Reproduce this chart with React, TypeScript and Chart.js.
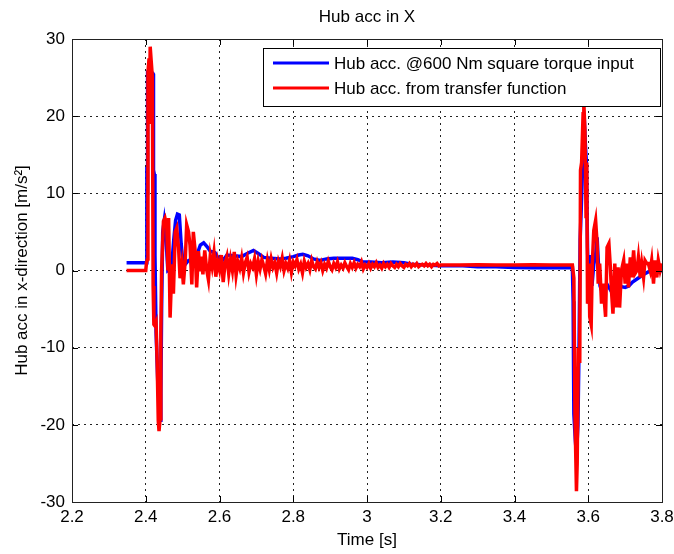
import React, { useEffect, useRef } from "react";
import { Chart, registerables } from "chart.js";

Chart.register(...registerables);

const chartTitle = "Hub acc in X";
const xAxisTitle = "Time [s]";
const yAxisTitle = "Hub acc in x-direction [m/s²]";
const seriesNames = ["Hub acc. @600 Nm square torque input", "Hub acc. from transfer function"];
const xTicks = [2.2, 2.4, 2.6, 2.8, 3.0, 3.2, 3.4, 3.6, 3.8];
const yTicks = [-30, -20, -10, 0, 10, 20, 30];

// Blue: measured hub acceleration [time, value]
const blueStart: number[][] = [
  [2.348, 1.0], [2.401, 1.0], [2.403, 13.4], [2.404, 10], [2.405, 25.7], [2.416, 25.7],
  [2.42, 25.5], [2.421, 13], [2.423, 12.5], [2.425, 2], [2.428, -8], [2.433, -15],
  [2.439, -19.4], [2.441, -16], [2.443, -5], [2.446, 5], [2.45, 6.4], [2.455, 4],
  [2.46, 0], [2.466, 0.2], [2.471, 1], [2.476, 4], [2.481, 6.5], [2.486, 7.3],
  [2.491, 7.2], [2.496, 3.5], [2.502, 0.5], [2.507, 0.8], [2.516, 1.3], [2.53, 1.5],
  [2.54, 2.2], [2.548, 3.3], [2.557, 3.6], [2.566, 3.1], [2.575, 2.5], [2.588, 2.3],
  [2.598, 1.5], [2.606, 1.2], [2.614, 1.6], [2.62, 2.0], [2.638, 1.9], [2.66, 1.8],
  [2.675, 2.2], [2.692, 2.6], [2.705, 2.2], [2.72, 1.7], [2.74, 1.6], [2.765, 1.5],
  [2.78, 1.6], [2.8, 1.8], [2.815, 2.0], [2.826, 2.1], [2.84, 1.9], [2.855, 1.5],
  [2.873, 1.3], [2.89, 1.5], [2.91, 1.6], [2.93, 1.6], [2.96, 1.6], [2.975, 1.4],
  [2.99, 1.1], [3.01, 1.1], [3.04, 1.0], [3.07, 1.1], [3.1, 1.0], [3.12, 0.8],
  [3.16, 0.7], [3.2, 0.6], [3.26, 0.6], [3.3, 0.5], [3.35, 0.5], [3.4, 0.4],
  [3.45, 0.35], [3.5, 0.35], [3.557, 0.4],
];
const blueEnd: number[][] = [
  [3.559, -4], [3.561, -18.6], [3.565, -22], [3.568, -24], [3.572, -20], [3.575, -10],
  [3.578, 4], [3.581, 8], [3.585, 14], [3.589, 20], [3.592, 16.5], [3.595, 14],
  [3.598, 3], [3.602, -4.3], [3.606, 2], [3.61, -2], [3.615, 0.8], [3.62, 2],
  [3.624, 4.3], [3.628, 0.5], [3.632, -2], [3.64, -3.1], [3.65, -1.7], [3.66, -2.5],
  [3.67, -1.7], [3.68, -2], [3.7, -2.2], [3.71, -2.0], [3.72, -1.5], [3.735, -1],
  [3.75, -0.5], [3.77, 0], [3.78, -0.3], [3.8, 0],
];

// Red: transfer-function estimate [time, value]
const redStart: number[][] = [
  [2.348, 0], [2.4, 0], [2.402, 1.0], [2.405, 1.5], [2.406, 25.7], [2.409, 27.5],
  [2.41, 19], [2.412, 29], [2.415, 27], [2.418, 25], [2.42, -2], [2.422, -7],
  [2.425, -7.2], [2.428, -6.8], [2.431, -12], [2.434, -19.5], [2.436, -20.8], [2.439, -19.2],
  [2.441, -8], [2.443, 0], [2.448, 6.4], [2.452, 6.8], [2.457, 5.6], [2.46, 0],
  [2.462, 6.8], [2.466, -6.1], [2.471, 0.8], [2.475, -3], [2.48, 5], [2.484, 5.5],
  [2.489, 2.9], [2.493, -1], [2.498, 0.8], [2.502, -1.8], [2.507, 1.2], [2.511, 5.9],
  [2.516, 5], [2.52, 3.3], [2.525, -1.8], [2.529, 5], [2.534, 2.5], [2.538, -2.2],
  [2.543, 2.5], [2.547, -0.1],
];
const redNoise: number[][] = [
  [2.55, 1.8], [2.555, -0.5], [2.56, 2.6], [2.565, 0.2], [2.57, -1.2], [2.575, 1.9],
  [2.58, 0.5], [2.585, 2.3], [2.59, -0.8], [2.595, 1.2], [2.6, 0.1], [2.605, 2.0],
  [2.61, -1.5], [2.615, 0.9], [2.62, 1.8], [2.625, -0.4], [2.63, 1.4], [2.635, 0.0],
  [2.64, 2.4], [2.645, -0.6], [2.65, 1.1], [2.655, 0.3], [2.66, 1.6], [2.665, -0.3],
  [2.67, 1.0], [2.675, 1.7], [2.68, -0.2], [2.685, 0.9], [2.69, 0.4], [2.695, 1.5],
  [2.7, -0.5], [2.705, 1.2], [2.71, 0.2], [2.715, 1.4], [2.72, 0.6], [2.725, -0.4],
  [2.73, 1.3], [2.735, 0.1], [2.74, 1.5], [2.745, 0.4], [2.75, 1.0], [2.755, -0.3],
  [2.76, 1.2], [2.765, 0.5], [2.77, 1.6], [2.775, 0.0], [2.78, 0.9], [2.785, 0.3],
  [2.79, 1.3], [2.795, -0.2], [2.8, 1.1], [2.805, 0.6], [2.81, 1.4], [2.815, 0.2],
  [2.82, 0.8], [2.825, -0.3], [2.83, 1.2], [2.835, 0.4], [2.84, 0.9], [2.845, 0.1],
  [2.85, 1.3], [2.855, 0.5], [2.86, 0.2], [2.865, 1.1], [2.87, 0.4], [2.875, 1.0],
  [2.88, 0.0], [2.885, 0.8], [2.89, 0.3], [2.895, 1.2], [2.9, 0.5], [2.905, 0.1],
  [2.91, 0.9], [2.915, 0.4], [2.92, 1.1], [2.925, 0.2], [2.93, 0.7], [2.935, 0.3],
  [2.94, 1.0], [2.945, 0.5], [2.95, 0.1], [2.955, 0.9], [2.96, 0.4], [2.965, 1.0],
  [2.97, 0.3], [2.975, 0.8], [2.98, 0.5], [2.985, 1.1], [2.99, 0.2], [2.995, 0.7],
  [3.0, 0.4], [3.005, 0.9], [3.01, 0.3], [3.015, 0.8], [3.02, 0.5], [3.025, 1.0],
  [3.03, 0.4], [3.035, 0.7], [3.04, 0.3], [3.045, 0.9], [3.05, 0.5], [3.055, 0.8],
  [3.06, 0.4], [3.065, 0.9], [3.07, 0.6], [3.075, 0.4], [3.08, 0.8], [3.085, 0.5],
  [3.09, 0.9], [3.095, 0.6], [3.1, 0.4], [3.105, 0.8], [3.11, 0.6], [3.115, 0.9],
  [3.12, 0.5], [3.125, 0.8], [3.13, 0.6], [3.135, 0.9], [3.14, 0.5], [3.145, 0.7],
  [3.15, 0.8], [3.155, 0.6], [3.16, 0.9], [3.165, 0.6], [3.17, 0.8], [3.175, 0.5],
  [3.18, 0.8], [3.185, 0.7], [3.19, 0.9], [3.195, 0.6], [3.2, 0.7],
  [3.25, 0.7], [3.3, 0.75], [3.35, 0.7], [3.4, 0.7], [3.45, 0.75], [3.5, 0.7], [3.557, 0.7],
];
const redEnd: number[][] = [
  [3.561, -1], [3.564, -18.6], [3.568, -28.6], [3.57, -25], [3.573, -10], [3.577, -12],
  [3.579, 13], [3.582, 14], [3.586, 20.3], [3.588, 21.8], [3.591, 18], [3.594, 7],
  [3.596, 14], [3.598, -4.3], [3.602, 0.9], [3.604, -6], [3.608, -7], [3.611, 0.9],
  [3.615, 5.2], [3.62, 6.5], [3.624, 3.5], [3.627, -1.7], [3.631, 0.9], [3.636, -4.3],
  [3.64, -1.7], [3.647, -6], [3.651, 3], [3.656, 3.5], [3.66, 0.4], [3.663, -2.6],
  [3.667, -5.6], [3.672, 0.9], [3.676, -4.8], [3.681, 0.4], [3.685, -4.8], [3.69, 0],
  [3.696, 1.3], [3.7, -1.7], [3.705, 0.9], [3.709, -2.2], [3.714, 1.7], [3.718, -0.9],
  [3.723, 2.6], [3.727, -0.4], [3.732, 0], [3.736, 1.7], [3.741, -0.9], [3.745, 0.9],
  [3.75, -0.9], [3.754, 1.3], [3.759, 0.9], [3.763, 0.9], [3.768, 0], [3.772, 1.3],
  [3.777, -1.7], [3.781, 1.3], [3.786, -0.9], [3.79, 1.3], [3.795, 0], [3.8, 0.9],
];

const FONT = "'Liberation Sans', Arial, Helvetica, sans-serif";
const toPoints = (...parts: number[][][]) =>
  parts.flat().map(([x, y]) => ({ x, y }));

const framePlugin = {
  id: "matlabFrame",
  afterDatasetsDraw(chart: any) {
    const { ctx, chartArea: a, scales } = chart;
    const { left, right, top, bottom } = a;
    ctx.save();
    ctx.strokeStyle = "#000";
    ctx.lineWidth = 1;
    ctx.beginPath();
    const tl = 6;
    for (const v of xTicks) {
      const px = Math.round(scales.x.getPixelForValue(v)) + 0.5;
      ctx.moveTo(px, bottom);
      ctx.lineTo(px, bottom - tl);
      ctx.moveTo(px, top);
      ctx.lineTo(px, top + tl);
    }
    for (const v of yTicks) {
      const py = Math.round(scales.y.getPixelForValue(v)) + 0.5;
      ctx.moveTo(left, py);
      ctx.lineTo(left + tl, py);
      ctx.moveTo(right, py);
      ctx.lineTo(right - tl, py);
    }
    ctx.stroke();
    ctx.strokeStyle = "#222";
    ctx.strokeRect(Math.round(left) + 0.5, Math.round(top) + 0.5, Math.round(right - left), Math.round(bottom - top));
    ctx.restore();
  },
  afterDraw(chart: any) {
    const { ctx, chartArea: a } = chart;
    ctx.save();
    ctx.fillStyle = "#000";
    ctx.font = `17px ${FONT}`;
    ctx.textAlign = "center";
    ctx.textBaseline = "middle";
    ctx.fillText(chartTitle, (a.left + a.right) / 2, 17);
    const bx = 263.5, by = 48.5, bw = 397, bh = 58;
    ctx.fillStyle = "#fff";
    ctx.fillRect(bx, by, bw, bh);
    ctx.strokeStyle = "#000";
    ctx.lineWidth = 1;
    ctx.strokeRect(bx, by, bw, bh);
    const colors = ["#0000ff", "#ff0000"];
    const rows = [63, 88];
    seriesNames.forEach((name, i) => {
      ctx.strokeStyle = colors[i];
      ctx.lineWidth = 3;
      ctx.beginPath();
      ctx.moveTo(273, rows[i]);
      ctx.lineTo(329, rows[i]);
      ctx.stroke();
      ctx.fillStyle = "#000";
      ctx.textAlign = "left";
      ctx.textBaseline = "middle";
      ctx.font = `17px ${FONT}`;
      ctx.fillText(name, 334, rows[i] + 1);
    });
    ctx.restore();
  },
};

export default function App() {
  const ref = useRef<HTMLCanvasElement | null>(null);
  useEffect(() => {
    if (!ref.current) return;
    const chart = new Chart(ref.current, {
      type: "line",
      data: {
        datasets: [
          {
            label: seriesNames[0],
            data: toPoints(blueStart, blueEnd),
            borderColor: "#0000ff",
            borderWidth: 3.5,
            pointRadius: 0,
            tension: 0,
            fill: false,
            order: 1,
          },
          {
            label: seriesNames[1],
            data: toPoints(redStart, redNoise, redEnd),
            borderColor: "#ff0000",
            borderWidth: 3.5,
            pointRadius: 0,
            tension: 0,
            fill: false,
            order: 0,
          },
        ],
      },
      options: {
        animation: false,
        responsive: false,
        maintainAspectRatio: false,
        devicePixelRatio: 1,
        layout: { padding: { top: 39, right: 12, left: 0, bottom: 0 } },
        plugins: {
          legend: { display: false },
          title: { display: false },
          tooltip: { enabled: false },
        },
        scales: {
          x: {
            type: "linear",
            min: 2.2,
            max: 3.8,
            afterFit: (s: any) => { s.height = 52; s.paddingLeft = 0; s.paddingRight = 0; },
            afterBuildTicks: (s: any) => { s.ticks = xTicks.map((v) => ({ value: v })); },
            ticks: {
              color: "#000",
              font: { family: FONT, size: 17 },
              padding: 5,
              maxRotation: 0,
              autoSkip: false,
              callback: (v: any) => String(Number(Number(v).toFixed(1))),
            },
            grid: { color: "#222", lineWidth: 1, drawTicks: false },
            border: { display: false, dash: [2, 4] },
            title: {
              display: true,
              text: xAxisTitle,
              color: "#000",
              font: { family: FONT, size: 17 },
              padding: { top: 0, bottom: 3 },
            },
          },
          y: {
            type: "linear",
            min: -30,
            max: 30,
            afterFit: (s: any) => { s.width = 72; s.paddingTop = 0; s.paddingBottom = 0; },
            afterBuildTicks: (s: any) => { s.ticks = yTicks.map((v) => ({ value: v })); },
            ticks: {
              color: "#000",
              font: { family: FONT, size: 17 },
              padding: 7,
              autoSkip: false,
              callback: (v: any) => String(v),
            },
            grid: { color: "#222", lineWidth: 1, drawTicks: false },
            border: { display: false, dash: [2, 4] },
            title: {
              display: true,
              text: yAxisTitle,
              color: "#000",
              font: { family: FONT, size: 17 },
              padding: { top: 12, bottom: 0 },
            },
          },
        },
      },
      plugins: [framePlugin],
    });
    return () => chart.destroy();
  }, []);
  return (
    <div style={{ position: "fixed", left: 0, top: 0, width: 674, height: 554, background: "#fff" }}>
      <canvas ref={ref} width={674} height={554} style={{ display: "block" }} />
    </div>
  );
}
